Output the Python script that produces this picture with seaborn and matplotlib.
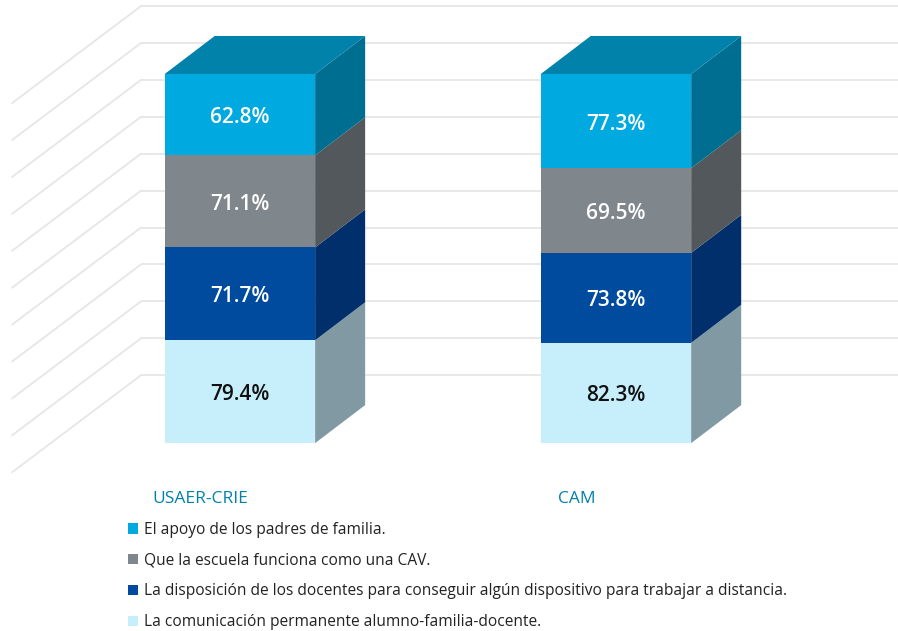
import numpy as np
import seaborn as sns
import matplotlib.pyplot as plt
from matplotlib.patches import Polygon, Patch

# Data
groups = ["USAER-CRIE", "CAM"]
series = [
    "La comunicación permanente alumno-familia-docente.",
    "La disposición de los docentes para conseguir algún dispositivo para trabajar a distancia.",
    "Que la escuela funciona como una CAV.",
    "El apoyo de los padres de familia.",
]
comunicacion = [79.4, 82.3]
disposicion = [71.7, 73.8]
escuela_cav = [71.1, 69.5]
apoyo_padres = [62.8, 77.3]

front_colors = ["#C6EEFB", "#004B9E", "#7F868C", "#00A9E0"]
side_colors = ["#8099A3", "#002F6C", "#53585C", "#006E91"]
top_color = "#0082AB"
text_colors = ["#111111", "white", "white", "white"]
grid_ticks = np.arange(0, 101, 10)

sns.set_theme(style="white")
plt.rcParams["font.family"] = ["Open Sans", "DejaVu Sans"]

values = np.array([comunicacion, disposicion, escuela_cav, apoyo_padres])
shares = values / values.sum(axis=0) * 100  # 100% stacked
tops = shares.cumsum(axis=0)
bottoms = tops - shares

fig = plt.figure(figsize=(8.98, 6.31), dpi=100)
ax = fig.add_axes([0, 0, 1, 1])

# 3d look: depth of bars, back wall offset, left wall
DX, DY = 0.133, 10.3
BY = 18.4
WX, LDX, LDY = -0.263, -0.343, -26.3
XMIN, XMAX = -0.638, 1.750

# Back wall + left wall grid
ax.hlines(grid_ticks + BY, WX, XMAX, color="#E6E6E6", lw=1.3, zorder=1)
for t in grid_ticks:
    ax.plot([WX, WX + LDX], [t + BY, t + BY + LDY], color="#E6E6E6", lw=1.3, zorder=1)

# Stacked bars (draw cumulative tops from the top layer down)
width = 0.4
for i in reversed(range(len(series))):
    sns.barplot(x=groups, y=tops[i], color=front_colors[i], width=width,
                saturation=1, linewidth=0, ax=ax, zorder=3)

for j in range(len(groups)):
    x1 = j + width / 2
    x0 = j - width / 2
    for i in range(len(series)):
        y0, y1 = bottoms[i, j], tops[i, j]
        side = Polygon([(x1, y0), (x1 + DX, y0 + DY), (x1 + DX, y1 + DY), (x1, y1)],
                       closed=True, facecolor=side_colors[i], lw=0, zorder=3)
        ax.add_patch(side)
        ax.text(j, (y0 + y1) / 2 - 0.8, f"{values[i, j]:.1f}%", ha="center", va="center",
                color=text_colors[i], fontsize=15, fontweight="semibold", zorder=5)
    ytop = tops[-1, j]
    top = Polygon([(x0, ytop), (x0 + DX, ytop + DY), (x1 + DX, ytop + DY), (x1, ytop)],
                  closed=True, facecolor=top_color, lw=0, zorder=3)
    ax.add_patch(top)
    ax.text(j - 0.105, -15.2, groups[j], ha="center", va="center",
            color="#0081AB", fontsize=12.5)

ax.set_xlim(XMIN, XMAX)
ax.set_ylim(-50.9, 120.05)
ax.axis("off")

handles = [Patch(facecolor=front_colors[i], edgecolor="none") for i in reversed(range(len(series)))]
labels = [series[i] for i in reversed(range(len(series)))]
fig.legend(handles, labels, loc="upper left", bbox_to_anchor=(0.1425, 0.173),
           frameon=False, fontsize=11.2, handlelength=0.65, handleheight=0.65,
           handletextpad=0.4, labelspacing=0.95, borderpad=0, borderaxespad=0,
           labelcolor="#222222")

fig.savefig("out.png", dpi=100)
